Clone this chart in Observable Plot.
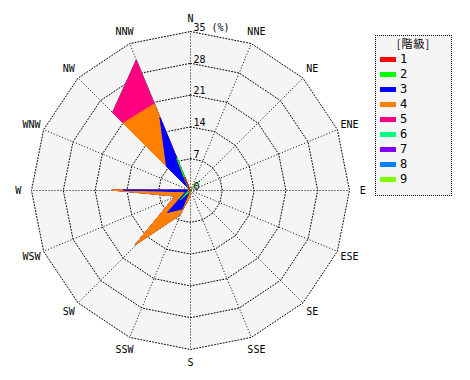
<!DOCTYPE html>
<html>
<head>
<meta charset="utf-8">
<script src="https://cdn.jsdelivr.net/npm/d3@7"></script>
<script src="https://cdn.jsdelivr.net/npm/@observablehq/plot@0.6"></script>
<style>
  html, body { margin: 0; padding: 0; background: #ffffff; }
  #wrap { position: relative; width: 470px; height: 380px; font-family: "DejaVu Sans Mono", "Noto Sans CJK JP", monospace; }
  #legend { position: absolute; left: 375px; top: 35px; width: 77px; height: 161px; box-sizing: border-box;
            border: 1px dotted #000; background: #f5f5f5; font-size: 12px; color: #000; }
  #legend .title { position: absolute; left: 0; width: 100%; top: 0px; line-height: 14px; text-align: center;
            font-family: "Noto Sans CJK JP", sans-serif; font-size: 11px; letter-spacing: 1px; }
  #legend .row { position: absolute; left: 4px; height: 14px; display: flex; align-items: center; }
  #legend .sw { width: 16px; height: 5px; margin-right: 4px; }
</style>
</head>
<body>
<div id="wrap"></div>
<script>
// ---- data ----
const directions = ["N","NNE","NE","ENE","E","ESE","SE","SSE","S","SSW","SW","WSW","W","WNW","NW","NNW"];
const classNames = ["1","2","3","4","5","6","7","8","9"];
const classColors = ["#ff0000","#00ff00","#0000ff","#ff8000","#ff0080","#00ff80","#8000ff","#0080ff","#80ff00"];
// percentage per class, by direction (order as in `directions`)
const class1 = [0,0,0,  0,0,0,0,0,0,  0.2, 0.5, 0,   0.2, 0, 0.2, 3.1];
const class2 = [0,0,3.0,0,0,0,0,0,0,  0.3, 2.5, 0.3, 0.3, 0, 0.3, 4.5];
const class3 = [0,0,0,  0,0,0,0,0,0,  4.0, 4.0, 0.7, 14.2,0, 6.8, 9.7];
const class4 = [0,0,0,  0,0,0,0,0,1.5,1.5, 10.1,2.5, 2.5, 0, 13.5,3.2];
const class5 = [0,0,0,  0,0,0,0,0,0,  0,   0,   0,   0,   0, 3.3, 10.4];
const class6 = [0,0,0,0,0,0,0,0,0,0,0,0,0,0,0,0];
const class7 = [0,0,0,0,0,0,0,0,0,0,0,0,0,0,0,0];
const class8 = [0,0,0,0,0,0,0,0,0,0,0,0,0,0,0,0];
const class9 = [0,0,0,0,0,0,0,0,0,0,0,0,0,0,0,0];
const ringValues = [7, 14, 21, 28, 35];
const tickValues = [0, 7, 14, 21, 28, 35];
const unitLabel = "(%)";
const legendTitle = "[階級]";

// ---- geometry helpers ----
const rMax = 35;
const k = 159 / rMax;            // px per unit
const cx = 190, W = 470, H = 380;
const pt = (i, r) => ({x: r * Math.sin(i * Math.PI / 8), y: r * Math.cos(i * Math.PI / 8)});

const outerPts = d3.range(17).map(i => pt(i % 16, rMax));
const ringPts = ringValues.flatMap(v => d3.range(17).map(i => ({ring: v, ...pt(i % 16, v)})));
const spokes = directions.map((d, i) => ({d, ...pt(i, rMax)}));
const dirLabels = directions.map((d, i) => ({d, ...pt(i, 37.9)}));

const series = [class1, class2, class3, class4, class5, class6, class7, class8, class9];
let acc = new Array(16).fill(0);
const cums = series.map(s => (acc = acc.map((a, i) => a + s[i])));

const dataMarks = [];
for (let c = cums.length - 1; c >= 0; c--) {
  const poly = d3.range(17).map(i => pt(i % 16, cums[c][i % 16]));
  dataMarks.push(Plot.area(poly, {x1: "x", y1: "y", x2: 0, y2: 0,
    fill: classColors[c], stroke: classColors[c], strokeWidth: 1}));
}

const chart = Plot.plot({
  width: W, height: H, margin: 0,
  x: {domain: [-cx / k, (W - cx) / k], axis: null},
  y: {domain: [-(H - 190) / k, 190 / k], axis: null},
  style: {fontFamily: "DejaVu Sans Mono, monospace", fontSize: "10px", background: "#ffffff"},
  marks: [
    Plot.area(outerPts, {x1: "x", y1: "y", x2: 0, y2: 0, fill: "#f5f5f5"}),
    Plot.line(ringPts, {x: "x", y: "y", z: "ring", stroke: "#000", strokeWidth: 1, strokeDasharray: "1,2"}),
    Plot.link(spokes, {x1: 0, y1: 0, x2: "x", y2: "y", stroke: "#000", strokeWidth: 1, strokeDasharray: "1,2"}),
    ...dataMarks,
    Plot.text(dirLabels, {x: "x", y: "y", text: "d", fontSize: 10, fill: "#000"}),
    Plot.text(tickValues, {x: 0, y: d => d, text: d => d === rMax ? d + " " + unitLabel : String(d),
      textAnchor: "start", dx: 3, dy: -4, fontSize: 10, fill: "#000"})
  ]
});

const wrap = document.getElementById("wrap");
wrap.appendChild(chart);

// legend (HTML, built from class arrays)
const lg = document.createElement("div");
lg.id = "legend";
const t = document.createElement("div");
t.className = "title";
t.textContent = legendTitle;
lg.appendChild(t);
classNames.forEach((n, i) => {
  const row = document.createElement("div");
  row.className = "row";
  row.style.top = (16 + i * 15) + "px";
  const sw = document.createElement("span");
  sw.className = "sw";
  sw.style.background = classColors[i];
  const lab = document.createElement("span");
  lab.textContent = n;
  row.appendChild(sw); row.appendChild(lab);
  lg.appendChild(row);
});
wrap.appendChild(lg);
</script>
</body>
</html>
